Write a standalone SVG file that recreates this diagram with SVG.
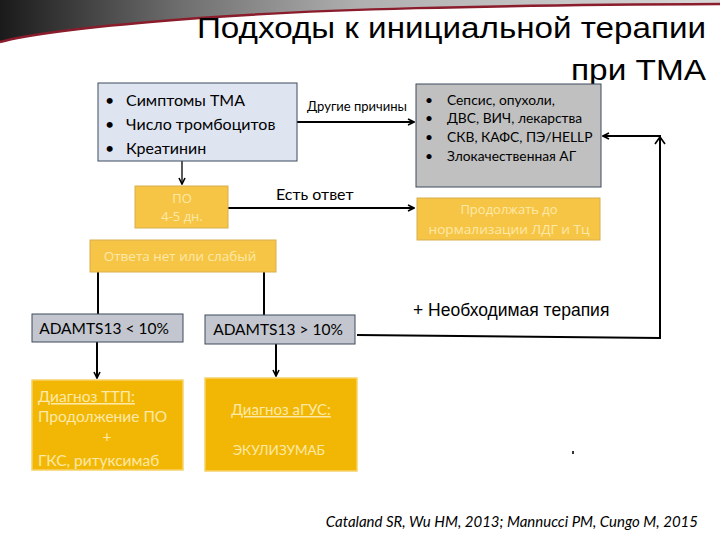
<svg xmlns="http://www.w3.org/2000/svg" width="720" height="540" viewBox="0 0 720 540">
<defs>
<linearGradient id="hdr" x1="0" y1="0" x2="1" y2="0">
<stop offset="0" stop-color="#1a1a1a"/>
<stop offset="0.25" stop-color="#6e6e6e"/>
<stop offset="0.5" stop-color="#b0b0b0"/>
<stop offset="1" stop-color="#d8d8d8"/>
</linearGradient>
<marker id="ah" viewBox="0 0 8 8" refX="7" refY="4" markerWidth="8" markerHeight="8" markerUnits="userSpaceOnUse" orient="auto">
<path d="M1,1 L7,4 L1,7" fill="none" stroke="#000" stroke-width="1.6"/>
</marker>
<style>
.box{stroke:#3c4a5c;stroke-width:1}
.lav{fill:#dfe4f1}
.grey{fill:#c0c0c0}
.gbox{fill:#c3c6ce}
.yel{fill:#f7c546;stroke:#d7ae4e;stroke-width:1}
.gold{fill:#f2b705;stroke:#f7d26a;stroke-width:1.5}
.ln{fill:none;stroke:#000;stroke-width:2}
.lnt{fill:none;stroke:#000;stroke-width:1.3}
.t{font-family:Lato,"Open Sans",sans-serif;fill:#000}
.w{font-family:"Open Sans",Lato,sans-serif;fill:#fde9a8}
.wl{font-family:Lato,"Open Sans",sans-serif;fill:#fde9a8}
.a{font-family:"Liberation Sans",Arial,sans-serif;fill:#000}
</style>
</defs>

<g id="header">
<path d="M0,0 H720 V4 C520,5 300,8 150,22 C80,28 30,34 0,42 Z" fill="url(#hdr)"/>
<path d="M720,4 C520,5 300,8 150,22 C80,28 30,34 0,42" fill="none" stroke="#8a1c2c" stroke-width="2.5"/>
</g>

<g id="title">
<text class="a" x="706" y="38" text-anchor="end" font-size="30" textLength="509" lengthAdjust="spacingAndGlyphs" font-family="'Liberation Sans Narrow','Liberation Sans',sans-serif">Подходы к инициальной терапии</text>
<text class="a" x="706" y="80" text-anchor="end" font-size="30" textLength="135" lengthAdjust="spacingAndGlyphs">при ТМА</text>
</g>

<g id="connectors">
<line class="ln" x1="297" y1="122" x2="414" y2="122" marker-end="url(#ah)"/>
<line class="lnt" x1="182" y1="161" x2="182" y2="184" marker-end="url(#ah)"/>
<line class="ln" x1="228" y1="208" x2="414" y2="208" marker-end="url(#ah)"/>
<line class="ln" x1="98" y1="272" x2="98" y2="314"/>
<line class="ln" x1="264" y1="272" x2="264" y2="315"/>
<line class="ln" x1="97" y1="342" x2="97" y2="378" marker-end="url(#ah)"/>
<line class="ln" x1="276" y1="344" x2="276" y2="376" marker-end="url(#ah)"/>
<polyline class="ln" points="357,335 660,338 660,136 603,136" marker-end="url(#ah)"/>
<path d="M655,144 L660,137 L665,144" fill="none" stroke="#000" stroke-width="1.6"/>
</g>

<g id="n_symptoms">
<rect class="box lav" x="98" y="83" width="199" height="78"/>
<text class="t" font-size="16"><tspan x="105" y="106">•</tspan><tspan x="126" y="106">Симптомы ТМА</tspan></text>
<text class="t" font-size="16"><tspan x="105" y="130">•</tspan><tspan x="126" y="130">Число тромбоцитов</tspan></text>
<text class="t" font-size="16"><tspan x="105" y="154">•</tspan><tspan x="126" y="154">Креатинин</tspan></text>
</g>

<g id="l_other">
<text class="t" x="307" y="111" font-size="13">Другие причины</text>
</g>

<g id="n_other">
<rect class="box grey" x="416" y="84" width="185" height="103"/>
<text class="t" font-size="13.8"><tspan x="425" y="105">•</tspan><tspan x="447" y="105">Сепсис, опухоли,</tspan></text>
<text class="t" font-size="13.8"><tspan x="425" y="123">•</tspan><tspan x="447" y="123">ДВС, ВИЧ, лекарства</tspan></text>
<text class="t" font-size="13.8"><tspan x="425" y="142">•</tspan><tspan x="447" y="142">СКВ, КАФС, ПЭ/HELLP</tspan></text>
<text class="t" font-size="13.8"><tspan x="425" y="161">•</tspan><tspan x="447" y="161">Злокачественная АГ</tspan></text>
</g>

<g id="n_po">
<rect class="yel" x="135" y="186" width="93" height="42"/>
<text class="w" x="182" y="203" font-size="13" text-anchor="middle">ПО</text>
<text class="w" x="182" y="221" font-size="13" text-anchor="middle">4-5 дн.</text>
</g>

<g id="l_yes">
<text class="t" x="276" y="200" font-size="16">Есть ответ</text>
</g>

<g id="n_continue">
<rect class="yel" x="417" y="198" width="183" height="42"/>
<text class="w" x="509" y="214" font-size="13" text-anchor="middle">Продолжать до</text>
<text class="w" x="509" y="234" font-size="13" text-anchor="middle" textLength="161" lengthAdjust="spacingAndGlyphs">нормализации ЛДГ и Тц</text>
</g>

<g id="n_noresp">
<rect class="yel" x="90" y="240" width="186" height="32"/>
<text class="w" x="180" y="261" font-size="13.5" text-anchor="middle">Ответа нет или слабый</text>
</g>

<g id="n_adamts_low">
<rect class="box gbox" x="32" y="314" width="151" height="28"/>
<text class="t" x="104" y="334" font-size="15.5" text-anchor="middle">ADAMTS13 &lt; 10%</text>
</g>

<g id="n_adamts_high">
<rect class="box gbox" x="205" y="315" width="150" height="29"/>
<text class="t" x="278" y="335" font-size="15.5" text-anchor="middle">ADAMTS13 &gt; 10%</text>
</g>

<g id="l_need">
<text class="a" x="413" y="316" font-size="17.5">+ Необходимая терапия</text>
</g>

<g id="n_ttp">
<rect class="gold" x="32" y="380" width="151" height="90"/>
<text class="wl" x="38" y="402" font-size="15.5" text-decoration="underline">Диагноз ТТП:</text>
<text class="wl" x="38" y="422" font-size="15.5">Продолжение ПО</text>
<text class="wl" x="107" y="442" font-size="15.5" text-anchor="middle">+</text>
<text class="wl" x="38" y="466" font-size="15.5">ГКС, ритуксимаб</text>
</g>

<g id="n_agus">
<rect class="gold" x="205" y="378" width="152" height="93"/>
<text class="wl" x="281" y="415" font-size="15" text-anchor="middle" text-decoration="underline">Диагноз аГУС:</text>
<text class="wl" x="279" y="455" font-size="13.5" text-anchor="middle">ЭКУЛИЗУМАБ</text>
</g>

<rect x="572" y="451" width="2" height="3" fill="#333"/>

<g id="citation">
<text class="t" x="698" y="527" font-size="15" font-style="italic" text-anchor="end">Cataland SR, Wu HM, 2013; Mannucci PM, Cungo M, 2015</text>
</g>
</svg>
